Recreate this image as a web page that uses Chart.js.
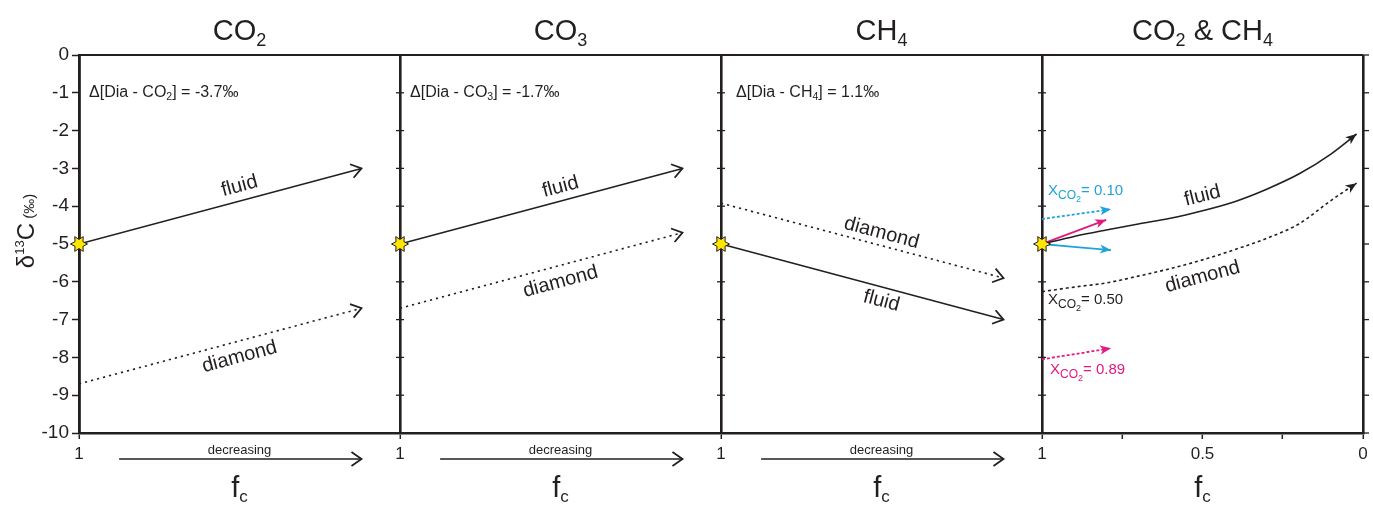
<!DOCTYPE html>
<html>
<head>
<meta charset="utf-8">
<script src="https://cdn.jsdelivr.net/npm/chart.js@4"></script>
<style>
  html, body { margin: 0; padding: 0; background: #fff; }
</style>
</head>
<body>
<canvas id="chart" width="1373" height="507"></canvas>
<script>
// panel titles and fractionation labels
const panelTitles = ['CO2', 'CO3', 'CH4', 'CO2 & CH4'];
const deltaLabels = ['Δ[Dia - CO2] = -3.7‰', 'Δ[Dia - CO3] = -1.7‰', 'Δ[Dia - CH4] = 1.1‰'];

// straight trends (fc goes from 1 down)
const fcLine = [1, 0.12];
const co2Fluid = [-5, -3];
const co2Diamond = [-8.7, -6.7];
const co3Fluid = [-5, -3];
const co3Diamond = [-6.7, -4.7];
const ch4Fluid = [-5, -7];
const ch4Diamond = [-3.92, -5.9];

// mixed CO2 & CH4 curves
const fcCurve = [1, 0.9, 0.8, 0.7, 0.6, 0.5, 0.4, 0.3, 0.2, 0.1, 0.02];
const mixFluid = [-5, -4.8, -4.63, -4.47, -4.32, -4.12, -3.88, -3.55, -3.15, -2.62, -2.09];
const mixDiamond = [-6.26, -6.14, -6.03, -5.85, -5.65, -5.42, -5.15, -4.85, -4.47, -3.85, -3.39];

// short XCO2 arrows
const fcShort = [1, 0.785];
const fcShortMagenta = [1, 0.8];
const x010Fluid = [-5, -5.16];
const x010Diamond = [-4.34, -4.08];
const x089Fluid = [-5, -4.36];
const x089Diamond = [-8.05, -7.76];

const startValue = -5;
const mixTicksFc = [1, 0.75, 0.5, 0.25, 0];
const mixTickLabels = ['1', '', '0.5', '', '0'];

const ink = '#231f20';
const cyan = '#1fa3d9';
const magenta = '#e2197e';
const FONT = '"Liberation Sans", Arial, Helvetica, sans-serif';

// panel p spans x = p .. p+1, fc = 1 on the left
function toX(panel, fc) { return panel + (1 - fc); }
function series(panel, fcs, vals) { return fcs.map((f, i) => ({ x: toX(panel, f), y: vals[i] })); }

function starImage() {
  const c = document.createElement('canvas');
  c.width = 22; c.height = 22;
  const g = c.getContext('2d');
  g.beginPath();
  for (let i = 0; i < 12; i++) {
    const r = i % 2 === 0 ? 8.5 : 4.6;
    const a = i * Math.PI / 6;
    const px = 11 + r * Math.cos(a), py = 11 + r * Math.sin(a);
    if (i === 0) g.moveTo(px, py); else g.lineTo(px, py);
  }
  g.closePath();
  g.fillStyle = '#ffe600';
  g.fill();
  g.lineWidth = 1;
  g.strokeStyle = ink;
  g.stroke();
  return c;
}

function line(label, data, color, dash, arrow, width) {
  return {
    label, data, showLine: true, pointRadius: 0, borderColor: color,
    borderWidth: width || 1.6, borderDash: dash || [], arrow,
    cubicInterpolationMode: 'monotone', fill: false
  };
}

const datasets = [
  { label: 'start', data: [0, 1, 2, 3].map(p => ({ x: toX(p, 1), y: startValue })),
    pointStyle: starImage(), pointRadius: 9, showLine: false, order: -1, clip: false },
  line('CO2 fluid', series(0, fcLine, co2Fluid), ink, [], 'open'),
  line('CO2 diamond', series(0, fcLine, co2Diamond), ink, [2.2, 4], 'open'),
  line('CO3 fluid', series(1, fcLine, co3Fluid), ink, [], 'open'),
  line('CO3 diamond', series(1, fcLine, co3Diamond), ink, [2.2, 4], 'open'),
  line('CH4 fluid', series(2, fcLine, ch4Fluid), ink, [], 'open'),
  line('CH4 diamond', series(2, fcLine, ch4Diamond), ink, [2.2, 4], 'open'),
  line('mix fluid', series(3, fcCurve, mixFluid), ink, [], 'filled'),
  line('mix diamond', series(3, fcCurve, mixDiamond), ink, [3, 3], 'filled'),
  line('x0.10 fluid', series(3, fcShort, x010Fluid), cyan, [], 'filled', 1.8),
  line('x0.10 diamond', series(3, fcShort, x010Diamond), cyan, [3, 2], 'filled', 1.8),
  line('x0.89 fluid', series(3, fcShortMagenta, x089Fluid), magenta, [], 'filled', 1.8),
  line('x0.89 diamond', series(3, fcShort, x089Diamond), magenta, [3, 2], 'filled', 1.8)
];

function richParts(str) {
  const parts = [];
  for (let i = 0; i < str.length; i++) {
    const ch = str[i];
    const sub = /\d/.test(ch) && i > 0 && /[A-Z]/.test(str[i - 1]);
    const last = parts[parts.length - 1];
    if (last && last.sub === sub) last.t += ch; else parts.push({ t: ch, sub });
  }
  return parts;
}

function drawRich(ctx, str, x, y, size, subSize, subDrop, align) {
  const parts = richParts(str);
  let w = 0;
  parts.forEach(p => { ctx.font = (p.sub ? subSize : size) + 'px ' + FONT; p.w = ctx.measureText(p.t).width; w += p.w; });
  let cx = align === 'center' ? x - w / 2 : x;
  ctx.textAlign = 'left';
  ctx.textBaseline = 'alphabetic';
  parts.forEach(p => {
    ctx.font = (p.sub ? subSize : size) + 'px ' + FONT;
    ctx.fillText(p.t, cx, p.sub ? y + subDrop : y);
    cx += p.w;
  });
}

function drawXco2(ctx, value, x, y, color) {
  ctx.fillStyle = color;
  ctx.textAlign = 'left';
  ctx.textBaseline = 'alphabetic';
  ctx.font = '15px ' + FONT;
  ctx.fillText('X', x, y);
  let cx = x + ctx.measureText('X').width;
  ctx.font = '12px ' + FONT;
  ctx.fillText('CO', cx, y + 4);
  cx += ctx.measureText('CO').width;
  ctx.font = '9px ' + FONT;
  ctx.fillText('2', cx, y + 7);
  cx += ctx.measureText('2').width;
  ctx.font = '15px ' + FONT;
  ctx.fillText('= ' + value, cx, y);
}

function chevron(ctx, x, y, ang, color) {
  ctx.save();
  ctx.translate(x, y);
  ctx.rotate(ang);
  ctx.strokeStyle = color;
  ctx.lineWidth = 1.8;
  ctx.setLineDash([]);
  ctx.beginPath();
  ctx.moveTo(-10, -7);
  ctx.lineTo(0, 0);
  ctx.lineTo(-10, 7);
  ctx.stroke();
  ctx.restore();
}

const arrowPlugin = {
  id: 'arrowHeads',
  beforeDatasetsDraw(chart) {
    // y ticks on the inner panel borders and right edge
    const ctx = chart.ctx;
    const xs = chart.scales.x, ys = chart.scales.y;
    ctx.save();
    ctx.strokeStyle = ink;
    ctx.lineWidth = 1.3;
    for (let v = -10; v <= 0; v++) {
      const y = ys.getPixelForValue(v);
      [1, 2, 3].forEach(b => {
        const x = xs.getPixelForValue(b);
        ctx.beginPath(); ctx.moveTo(x - 4, y); ctx.lineTo(x + 4, y); ctx.stroke();
      });
      const r = chart.chartArea.right;
      ctx.beginPath(); ctx.moveTo(r, y); ctx.lineTo(r + 6, y); ctx.stroke();
    }
    // top frame line
    ctx.lineWidth = 2;
    ctx.beginPath();
    ctx.moveTo(chart.chartArea.left, chart.chartArea.top);
    ctx.lineTo(chart.chartArea.right, chart.chartArea.top);
    ctx.stroke();
    ctx.restore();
  },
  afterDatasetsDraw(chart) {
    const ctx = chart.ctx;
    chart.data.datasets.forEach((ds, i) => {
      if (!ds.arrow) return;
      const pts = chart.getDatasetMeta(i).data;
      const a = pts[pts.length - 2], b = pts[pts.length - 1];
      const ang = Math.atan2(b.y - a.y, b.x - a.x);
      if (ds.arrow === 'open') {
        chevron(ctx, b.x, b.y, ang, ds.borderColor);
      } else {
        ctx.save();
        ctx.translate(b.x, b.y);
        ctx.rotate(ang);
        ctx.fillStyle = ds.borderColor;
        ctx.beginPath();
        ctx.moveTo(0, 0);
        ctx.lineTo(-11, -4.5);
        ctx.lineTo(-8, 0);
        ctx.lineTo(-11, 4.5);
        ctx.closePath();
        ctx.fill();
        ctx.restore();
      }
    });
  }
};

const decorPlugin = {
  id: 'decor',
  afterDraw(chart) {
    const ctx = chart.ctx;
    const xs = chart.scales.x, ys = chart.scales.y;
    const area = chart.chartArea;
    const px = (p, fc) => xs.getPixelForValue(toX(p, fc));
    const py = v => ys.getPixelForValue(v);
    ctx.save();

    ctx.fillStyle = ink;
    // titles
    panelTitles.forEach((t, p) => drawRich(ctx, t, px(p, 0.5), area.top - 15, 29, 18, 6, 'center'));
    // fractionation labels
    deltaLabels.forEach((t, p) => drawRich(ctx, t, px(p, 1) + (p === 2 ? 15 : 10), 97, 16, 10.5, 3, 'left'));

    // rotated curve labels
    const labels = [
      ['fluid', 0, 0.5, -3.47, -15], ['diamond', 0, 0.5, -7.99, -15],
      ['fluid', 1, 0.5, -3.49, -15], ['diamond', 1, 0.5, -6.0, -15],
      ['diamond', 2, 0.5, -4.71, 15], ['fluid', 2, 0.5, -6.51, 15],
      ['fluid', 3, 0.5, -3.73, -14], ['diamond', 3, 0.5, -5.87, -15]
    ];
    ctx.font = '20px ' + FONT;
    ctx.textAlign = 'center';
    ctx.textBaseline = 'middle';
    labels.forEach(([t, p, fc, v, deg]) => {
      ctx.save();
      ctx.translate(px(p, fc), py(v));
      ctx.rotate(deg * Math.PI / 180);
      ctx.fillText(t, 0, 0);
      ctx.restore();
    });

    // XCO2 labels
    drawXco2(ctx, '0.10', px(3, 1) + 6, py(-3.7), cyan);
    drawXco2(ctx, '0.50', px(3, 1) + 6, py(-6.6), ink);
    drawXco2(ctx, '0.89', px(3, 1) + 8, py(-8.45), magenta);

    // "decreasing" arrows and fc labels
    ctx.fillStyle = ink;
    [0, 1, 2].forEach(p => {
      const y = area.bottom + 26;
      const x0 = px(p, 0.875), x1 = px(p, 0.12);
      ctx.strokeStyle = ink;
      ctx.lineWidth = 1.5;
      ctx.beginPath(); ctx.moveTo(x0, y); ctx.lineTo(x1, y); ctx.stroke();
      chevron(ctx, x1, y, 0, ink);
      ctx.font = '13px ' + FONT;
      ctx.textAlign = 'center';
      ctx.textBaseline = 'alphabetic';
      ctx.fillText('decreasing', px(p, 0.5), area.bottom + 21);
    });
    [0, 1, 2, 3].forEach(p => {
      const cx = px(p, 0.5);
      ctx.textAlign = 'left';
      ctx.textBaseline = 'alphabetic';
      ctx.font = '29px ' + FONT;
      const fw = ctx.measureText('f').width;
      ctx.font = '17px ' + FONT;
      const cw = ctx.measureText('c').width;
      const x0 = cx - (fw + cw) / 2;
      ctx.font = '29px ' + FONT;
      ctx.fillText('f', x0, area.bottom + 64);
      ctx.font = '17px ' + FONT;
      ctx.fillText('c', x0 + fw, area.bottom + 69);
    });

    // y title: δ13C (‰)
    ctx.save();
    ctx.translate(34, (area.top + area.bottom) / 2 - 13);
    ctx.rotate(-Math.PI / 2);
    const segs = [['δ', 24, 0], ['13', 13, -10], ['C', 24, 0], [' (‰)', 15, 0]];
    let w = 0;
    segs.forEach(s => { ctx.font = s[1] + 'px ' + FONT; s.push(ctx.measureText(s[0]).width); w += s[3]; });
    let cx = -w / 2;
    segs.forEach(s => { ctx.font = s[1] + 'px ' + FONT; ctx.fillText(s[0], cx, s[2]); cx += s[3]; });
    ctx.restore();

    ctx.restore();
  }
};

new Chart(document.getElementById('chart'), {
  type: 'scatter',
  data: { datasets },
  plugins: [arrowPlugin, decorPlugin],
  options: {
    responsive: false,
    animation: false,
    devicePixelRatio: 1,
    layout: { padding: { left: 0, right: 9, top: 55, bottom: 0 } },
    plugins: { legend: { display: false }, tooltip: { enabled: false } },
    scales: {
      x: {
        type: 'linear', min: 0, max: 4,
        afterBuildTicks: scale => {
          const vals = [0, 1, 2].concat(mixTicksFc.map(f => toX(3, f)));
          scale.ticks = vals.map(v => ({ value: v }));
        },
        afterFit: scale => { scale.height = 74; },
        ticks: {
          autoSkip: false, maxRotation: 0, padding: 5,
          color: ink, font: { size: 17, family: FONT },
          callback: v => v < 3 ? '1' : mixTickLabels[mixTicksFc.indexOf(Math.round((1 - (v - 3)) * 100) / 100)]
        },
        grid: {
          drawOnChartArea: true, drawTicks: true, tickLength: 6, tickWidth: 1.5, tickColor: ink,
          lineWidth: 2.6,
          color: c => Number.isInteger(c.tick.value) ? ink : 'rgba(0,0,0,0)'
        },
        border: { display: true, color: ink, width: 2.6 }
      },
      y: {
        min: -10, max: 0,
        afterFit: scale => { scale.width = 79; },
        ticks: { stepSize: 1, padding: 3, color: ink, font: { size: 19, family: FONT }, callback: v => String(v) },
        grid: { drawOnChartArea: false, drawTicks: true, tickLength: 7, tickWidth: 1.5, tickColor: ink },
        border: { display: true, color: ink, width: 2.6 }
      }
    }
  }
});
</script>
</body>
</html>
